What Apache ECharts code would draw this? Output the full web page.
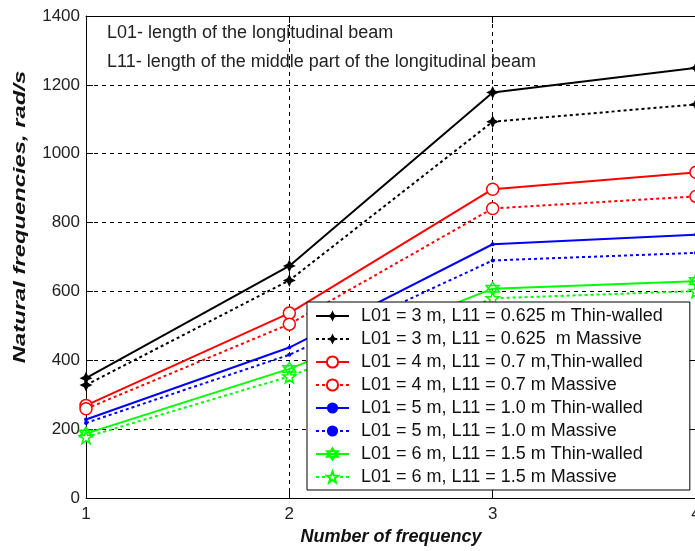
<!DOCTYPE html>
<html>
<head>
<meta charset="utf-8">
<script src="https://cdn.jsdelivr.net/npm/echarts@6/dist/echarts.min.js"></script>
<style>
  html, body { margin: 0; padding: 0; background: #fff; }
  #main { width: 695px; height: 551px; }
</style>
</head>
<body>
<div id="main"></div>
<script>
// number of frequency
var xs = [1, 2, 3, 4];

// natural frequencies, rad/s
var l3Thin = [348, 674, 1178, 1249];
var l3Mass = [328, 632, 1093, 1143];
var l4Thin = [269, 537, 897, 946];
var l4Mass = [259, 505, 841, 876];
var l5Thin = [228, 437, 737, 765];
var l5Mass = [218, 416, 690, 712];
var l6Thin = [187, 375, 608, 630];
var l6Mass = [177, 353, 580, 601];

var names = [
  'L01 = 3 m, L11 = 0.625 m Thin-walled',
  'L01 = 3 m, L11 = 0.625  m Massive',
  'L01 = 4 m, L11 = 0.7 m,Thin-walled',
  'L01 = 4 m, L11 = 0.7 m Massive',
  'L01 = 5 m, L11 = 1.0 m Thin-walled',
  'L01 = 5 m, L11 = 1.0 m Massive',
  'L01 = 6 m, L11 = 1.5 m Thin-walled',
  'L01 = 6 m, L11 = 1.5 m Massive'
];

var yTicks = [0, 200, 400, 600, 800, 1000, 1200, 1400];

var FONT = '"Liberation Sans", Arial, sans-serif';

// marker shapes
var star4 = 'path://M0,-10 L3.2,-3.2 L10,0 L3.2,3.2 L0,10 L-3.2,3.2 L-10,0 L-3.2,-3.2 Z';
var hexagram = 'path://M0,-10 L8.66,5 L-8.66,5 Z M0,10 L8.66,-5 L-8.66,-5 Z';
var pentagram = 'path://M0,-10 L2.35,-3.24 L9.51,-3.09 L3.8,1.24 L5.88,8.09 L0,4 L-5.88,8.09 L-3.8,1.24 L-9.51,-3.09 L-2.35,-3.24 Z';

function pairs(vals) {
  var out = [];
  for (var i = 0; i < xs.length; i++) {
    out.push([xs[i], vals[i]]);
  }
  return out;
}

function makeSeries(name, vals, color, dotted, symbol, size, filled) {
  return {
    name: name,
    type: 'line',
    data: pairs(vals),
    symbol: symbol,
    symbolSize: size,
    showSymbol: true,
    lineStyle: { color: color, width: 2, type: dotted ? [3, 3] : 'solid' },
    itemStyle: {
      color: filled ? color : '#fff',
      borderColor: color,
      borderWidth: filled ? 0 : 1.5
    },
    emphasis: { disabled: true },
    z: 3
  };
}

var myChart = echarts.init(document.getElementById('main'), null, { renderer: 'canvas' });

var option = {
  animation: false,
  backgroundColor: '#fff',
  title: {
    text: 'L01- length of the longitudinal beam\nL11- length of the middle part of the longitudinal beam',
    left: 102,
    top: 14,
    textStyle: {
      fontFamily: FONT,
      fontSize: 18,
      fontWeight: 'normal',
      color: '#222',
      lineHeight: 29
    }
  },
  // y axis title, stretched along its length like the original figure
  graphic: [{
    type: 'text',
    x: 20,
    y: 217,
    rotation: Math.PI / 2,
    scaleX: 1.4,
    silent: true,
    style: {
      text: 'Natural frequencies, rad/s',
      fontFamily: FONT,
      fontSize: 17,
      fontWeight: 'bold',
      fontStyle: 'italic',
      fill: '#111',
      align: 'center',
      verticalAlign: 'middle'
    }
  }],
  grid: {
    left: 86,
    right: -1,
    top: 16,
    bottom: 53,
    show: false,
    outerBoundsMode: 'none'
  },
  legend: {
    orient: 'vertical',
    left: 307,
    top: 302,
    itemWidth: 33,
    itemHeight: 14,
    itemGap: 5,
    padding: [5, 27, 4, 8],
    backgroundColor: '#fff',
    borderColor: '#000',
    borderWidth: 1,
    data: names,
    textStyle: {
      fontFamily: FONT,
      fontSize: 18,
      lineHeight: 18,
      color: '#111',
      padding: [0, 0, 0, 7]
    }
  },
  xAxis: [{
    type: 'value',
    min: 1,
    max: 4,
    interval: 1,
    name: 'Number of frequency',
    nameLocation: 'middle',
    nameGap: 30,
    nameTextStyle: {
      fontFamily: FONT,
      fontSize: 18,
      fontWeight: 'bold',
      fontStyle: 'italic',
      color: '#111'
    },
    axisLine: { show: true, lineStyle: { color: '#000', width: 1 } },
    axisTick: { show: true, inside: true, length: 7, lineStyle: { color: '#000' } },
    axisLabel: {
      fontFamily: FONT,
      fontSize: 17,
      color: '#222',
      margin: 8
    },
    splitLine: { show: true, lineStyle: { color: '#000', type: [4, 4], width: 1 } }
  }, {
    type: 'value',
    position: 'top',
    min: 1,
    max: 4,
    interval: 1,
    axisLine: { show: true, onZero: false, lineStyle: { color: '#000', width: 1 } },
    axisTick: { show: true, inside: true, length: 7, lineStyle: { color: '#000' } },
    axisLabel: { show: false },
    splitLine: { show: false }
  }],
  yAxis: [{
    type: 'value',
    min: yTicks[0],
    max: yTicks[yTicks.length - 1],
    interval: 200,
    axisLine: { show: true, lineStyle: { color: '#000', width: 1 } },
    axisTick: { show: true, inside: true, length: 7, lineStyle: { color: '#000' } },
    axisLabel: {
      fontFamily: FONT,
      fontSize: 17,
      color: '#222',
      margin: 6,
      formatter: function (v) { return String(v); }
    },
    splitLine: { show: true, lineStyle: { color: '#000', type: [4, 4], width: 1 } }
  }, {
    type: 'value',
    position: 'right',
    min: yTicks[0],
    max: yTicks[yTicks.length - 1],
    interval: 200,
    axisLine: { show: true, onZero: false, lineStyle: { color: '#000', width: 1 } },
    axisTick: { show: true, inside: true, length: 7, lineStyle: { color: '#000' } },
    axisLabel: { show: false },
    splitLine: { show: false }
  }],
  series: [
    makeSeries(names[0], l3Thin, '#000000', false, star4, 13, true),
    makeSeries(names[1], l3Mass, '#000000', true, star4, 13, true),
    makeSeries(names[2], l4Thin, '#ff0000', false, 'circle', 12, false),
    makeSeries(names[3], l4Mass, '#ff0000', true, 'circle', 12, false),
    makeSeries(names[4], l5Thin, '#0000ff', false, 'circle', 4, true),
    makeSeries(names[5], l5Mass, '#0000ff', true, 'circle', 4, true),
    makeSeries(names[6], l6Thin, '#00ff00', false, hexagram, 13, false),
    makeSeries(names[7], l6Mass, '#00ff00', true, pentagram, 13, false)
  ]
};

myChart.setOption(option);
</script>
</body>
</html>
